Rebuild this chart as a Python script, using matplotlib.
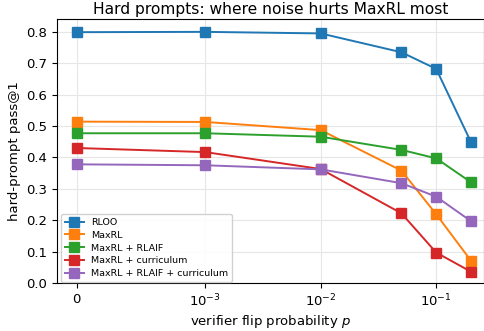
import matplotlib
matplotlib.use("Agg")
import matplotlib.pyplot as plt

p = [0.0, 1e-3, 1e-2, 0.05, 0.1, 0.2]
rloo = [0.799, 0.800, 0.795, 0.735, 0.682, 0.449]
maxrl = [0.514, 0.513, 0.487, 0.358, 0.219, 0.071]
maxrl_rlaif = [0.477, 0.477, 0.466, 0.424, 0.397, 0.321]
maxrl_curr = [0.430, 0.417, 0.363, 0.222, 0.097, 0.036]
maxrl_rlaif_curr = [0.378, 0.375, 0.362, 0.318, 0.275, 0.197]

series = [
    ("RLOO", rloo, "#1f77b4"),
    ("MaxRL", maxrl, "#ff7f0e"),
    ("MaxRL + RLAIF", maxrl_rlaif, "#2ca02c"),
    ("MaxRL + curriculum", maxrl_curr, "#d62728"),
    ("MaxRL + RLAIF + curriculum", maxrl_rlaif_curr, "#9467bd"),
]

W, H = 485, 331
fig = plt.figure(figsize=(W / 100, H / 100), dpi=100)
ax = fig.add_axes([57 / W, 1 - 283 / H, (484.5 - 57) / W, (283 - 19.3) / H])

for name, vals, c in series:
    ax.plot(p, vals, marker="s", color=c, lw=1.4, ms=6.5, label=name)

ax.set_xscale("symlog", linthresh=1e-3, linscale=1)
ax.set_xticks([0, 1e-3, 1e-2, 1e-1])
ax.xaxis.set_minor_locator(matplotlib.ticker.NullLocator())
ax.set_xlim(-1.56e-4, 0.262)
ax.set_ylim(0, 0.84)
ax.set_yticks([0.0, 0.1, 0.2, 0.3, 0.4, 0.5, 0.6, 0.7, 0.8])
ax.grid(True, color="#e6e6e6", lw=0.8)
ax.set_axisbelow(True)
ax.tick_params(labelsize=9.5, length=3.5)
ax.set_xlabel("verifier flip probability $p$", fontsize=9.5, labelpad=3)
ax.set_ylabel("hard-prompt pass@1", fontsize=9.5)
ax.set_title("Hard prompts: where noise hurts MaxRL most", fontsize=11.2, pad=3.5)
ax.legend(loc="lower left", fontsize=6.8, bbox_to_anchor=(0.005, -0.003),
          borderaxespad=0.2, handlelength=2.0, labelspacing=0.4, framealpha=0.9)

fig.savefig("out.png", dpi=100)
